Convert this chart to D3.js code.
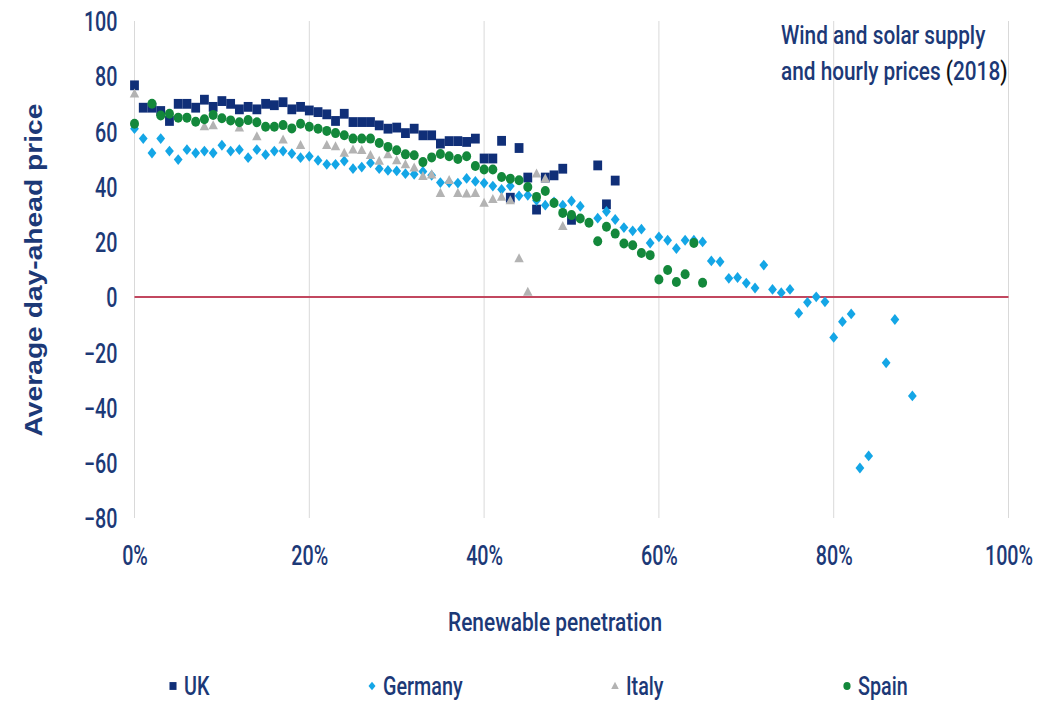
<!DOCTYPE html>
<html>
<head>
<meta charset="utf-8">
<script src="https://cdn.jsdelivr.net/npm/d3@7"></script>
<style>
  body { margin: 0; background: #fff; }
  svg { display: block; }
  text { font-family: Roboto, "Liberation Sans", sans-serif; fill: #1c3977; font-weight: 500; }
</style>
</head>
<body>
<div id="chart"></div>
<script>
// renewable penetration (%) and average day-ahead price
const ukData = [
  [0, 76.7], [1, 68.6], [2, 68.6], [3, 67.4], [4, 63.8], [5, 70], [6, 70], [7, 68.6], [8, 71.5], [9, 68.9],
  [10, 71], [11, 70], [12, 68], [13, 68.9], [14, 68], [15, 70], [16, 69.5], [17, 70.6], [18, 68], [19, 68.9],
  [20, 67.6], [21, 67], [22, 66.2], [23, 63.8], [24, 66.4], [25, 63.4], [26, 63.4], [27, 63.4], [28, 62.2], [29, 61],
  [30, 61.4], [31, 59.4], [32, 61], [33, 58.6], [34, 58.6], [35, 55.6], [36, 56.5], [37, 56.5], [38, 56.2], [39, 57.4],
  [40, 50.2], [41, 50.2], [42, 56.6], [43, 36], [44, 54], [45, 43.3], [46, 31.7], [47, 43.3], [48, 44.1], [49, 46.5],
  [50, 28], [53, 47.7], [54, 33.6], [55, 42.2]
];
const germanyData = [
  [0, 61], [1, 57.4], [2, 52.2], [3, 57.4], [4, 52.9], [5, 49.8], [6, 53.4], [7, 52.2], [8, 52.9], [9, 52.2],
  [10, 55], [11, 52.9], [12, 53.4], [13, 50.5], [14, 53.4], [15, 51.6], [16, 52.9], [17, 52.9], [18, 52], [19, 50.5],
  [20, 51], [21, 49.5], [22, 48.1], [23, 48.1], [24, 49.3], [25, 46.5], [26, 47.1], [27, 48.6], [28, 46.5], [29, 45.9],
  [30, 45.7], [31, 44.7], [32, 44.5], [33, 45.5], [34, 44.1], [35, 41.5], [36, 41.5], [37, 41.3], [38, 43], [39, 41.9],
  [40, 41.3], [41, 40.2], [42, 39], [43, 40.2], [44, 36.7], [45, 36.9], [46, 35], [47, 33.3], [48, 34.5], [49, 33.3],
  [50, 34.8], [51, 32.9], [53, 28.6], [54, 31], [55, 28.1], [56, 25.2], [57, 24], [58, 24.6], [59, 19.6],
  [60, 21.8], [61, 20.6], [62, 17.6], [63, 20.6], [64, 20.6], [65, 20], [66, 13.1], [67, 12.8], [68, 6.8], [69, 7.1],
  [70, 5.1], [71, 3.3], [72, 11.6], [73, 2.8], [74, 1.6], [75, 2.8], [76, -5.8], [77, -1.9], [78, 0.1], [79, -1.7],
  [80, -14.6], [81, -8.9], [82, -6.1], [83, -61.9], [84, -57.5], [86, -23.8], [87, -8.1], [89, -35.8]
];
const italyData = [
  [0, 73.7], [8, 61.8], [9, 62.2], [12, 61.4], [14, 58.2], [17, 57], [19, 55], [22, 55], [23, 54.6], [24, 52.2],
  [25, 53.4], [26, 53.2], [27, 51.4], [28, 49.3], [29, 51.7], [30, 49.5], [31, 48.1], [32, 46.9], [33, 43.8], [34, 44.4],
  [35, 37.7], [36, 42.4], [37, 37.7], [38, 37.5], [39, 37.7], [40, 34.1], [41, 35.5], [42, 36.3], [43, 35], [44, 14],
  [45, 1.9], [46, 44.7], [47, 42.9], [49, 25.7]
];
const spainData = [
  [0, 62.8], [2, 70], [3, 65.8], [4, 66.4], [5, 65], [6, 65], [7, 63.5], [8, 64.4], [9, 66],
  [10, 64.8], [11, 64], [12, 63.3], [13, 64.1], [14, 63.3], [15, 61.7], [16, 61.7], [17, 62.3], [18, 61.1], [19, 62.8],
  [20, 61.7], [21, 61], [22, 60.2], [23, 59.4], [24, 58.6], [25, 57.4], [26, 57.4], [27, 57.4], [28, 55.8], [29, 54.4],
  [30, 53.2], [31, 51.7], [32, 51.4], [33, 48.9], [34, 50.6], [35, 51.8], [36, 51], [37, 50], [38, 51], [39, 47.5],
  [40, 46.2], [41, 46.2], [42, 43.5], [43, 42.9], [44, 42.3], [45, 39.9], [46, 36.3], [47, 38.4], [48, 34.1], [49, 30.5],
  [50, 29.7], [51, 28.5], [52, 26.9], [53, 20.2], [54, 25.5], [55, 23], [56, 19.4], [57, 18.8], [58, 16], [59, 15.2],
  [60, 6.4], [61, 9.8], [62, 5.5], [63, 8.3], [64, 19.6], [65, 5.2]
];
const seriesNames = ["UK", "Germany", "Italy", "Spain"];
const xTicks = [0, 20, 40, 60, 80, 100];
const yTicks = [-80, -60, -40, -20, 0, 20, 40, 60, 80, 100];

const width = 1058, height = 702;
const colors = { UK: "#102f78", Germany: "#14a6e6", Italy: "#b3b3b3", Spain: "#13883b" };
const condensed = 0.76;

const svg = d3.select("#chart").append("svg")
  .attr("width", width).attr("height", height);
svg.append("rect").attr("width", width).attr("height", height).attr("fill", "#fff");

const x = d3.scaleLinear().domain([0, 100]).range([134.5, 1008.5]);
const y = d3.scaleLinear().domain([-80, 100]).range([518, 21]);

// squeeze a text node horizontally (the original uses a condensed face)
function condense(sel, k) {
  sel.each(function () {
    const w = this.getComputedTextLength();
    d3.select(this).attr("textLength", w * k).attr("lengthAdjust", "spacingAndGlyphs");
  });
}

// vertical gridlines
svg.append("g").selectAll("line").data(xTicks).join("line")
  .attr("x1", d => x(d)).attr("x2", d => x(d))
  .attr("y1", y(100)).attr("y2", y(-80))
  .attr("stroke", "#d9d9d9").attr("stroke-width", 1);

// zero line
svg.append("line")
  .attr("x1", x(0)).attr("x2", x(100))
  .attr("y1", y(0)).attr("y2", y(0))
  .attr("stroke", "#c2475f").attr("stroke-width", 2);

// axes
const yAxis = svg.append("g").attr("transform", `translate(${x(0)},0)`)
  .call(d3.axisLeft(y).tickValues(yTicks).tickSize(0).tickPadding(17));
yAxis.select(".domain").remove();
yAxis.selectAll("text").attr("font-size", 27).attr("fill", "#1c3977")
  .style("font-family", "Roboto").attr("dy", "0.36em").call(condense, 0.73);

const xAxis = svg.append("g").attr("transform", `translate(0,${y(-80)})`)
  .call(d3.axisBottom(x).tickValues(xTicks).tickSize(0).tickPadding(28).tickFormat(d => d + "%"));
xAxis.select(".domain").remove();
xAxis.selectAll("text").attr("font-size", 27).attr("fill", "#1c3977")
  .style("font-family", "Roboto").call(condense, 0.73);

// markers
const diamond = (hw, hh) => `M0,${-hh}L${hw},0L0,${hh}L${-hw},0Z`;
const triangle = s => `M0,${-s * 0.6}L${s * 0.55},${s * 0.45}L${-s * 0.55},${s * 0.45}Z`;

function drawMarker(g, name, big) {
  const k = big ? 1 : 0.8;
  if (name === "UK") {
    const s = 8.8 * k;
    g.append("rect").attr("x", -s / 2).attr("y", -s / 2 - 0.5 * k).attr("width", s).attr("height", s + 1 * k)
      .attr("fill", colors.UK);
  } else if (name === "Germany") {
    g.append("path").attr("d", diamond(4.4 * k, 5.4 * k)).attr("fill", colors.Germany);
  } else if (name === "Italy") {
    g.append("path").attr("d", triangle(8.6 * k)).attr("fill", colors.Italy);
  } else {
    g.append("ellipse").attr("rx", 4.5 * k).attr("ry", 5 * k).attr("fill", colors.Spain);
  }
}

const allData = { UK: ukData, Germany: germanyData, Italy: italyData, Spain: spainData };
seriesNames.forEach(name => {
  svg.append("g").selectAll("g").data(allData[name]).join("g")
    .attr("transform", d => `translate(${x(d[0])},${y(d[1])})`)
    .each(function () { drawMarker(d3.select(this), name, true); });
});

// axis titles
svg.append("text")
  .attr("transform", `translate(42,${270}) rotate(-90)`)
  .attr("text-anchor", "middle")
  .attr("font-size", 24)
  .style("font-weight", "bold")
  .style("font-family", "'Liberation Sans', Arial, sans-serif")
  .attr("textLength", 333).attr("lengthAdjust", "spacingAndGlyphs")
  .text("Average day-ahead price");

svg.append("text")
  .attr("x", 555).attr("y", 631)
  .attr("text-anchor", "middle")
  .attr("font-size", 26)
  .attr("textLength", 214).attr("lengthAdjust", "spacingAndGlyphs")
  .text("Renewable penetration");

// chart title, top right (horizontally squeezed group)
const title = svg.append("g").attr("transform", "translate(781,0) scale(0.8,1)");
title.append("text")
  .attr("x", 0).attr("y", 44)
  .attr("font-size", 26)
  .text("Wind and solar supply");
const t2 = title.append("text")
  .attr("x", 0).attr("y", 80)
  .attr("font-size", 26);
t2.append("tspan").text("and hourly prices ");
t2.append("tspan").style("fill", "#111").text("(");
t2.append("tspan").text("2018");
t2.append("tspan").style("fill", "#111").text(")");

// legend
const legendX = [173, 372, 615, 847];
const legend = svg.append("g").selectAll("g").data(seriesNames).join("g")
  .attr("transform", (d, i) => `translate(${legendX[i]},686)`);
legend.each(function (d) { drawMarker(d3.select(this), d, false); });
legend.append("text")
  .attr("x", 11).attr("y", 9)
  .attr("font-size", 26)
  .text(d => d)
  .call(condense, condensed);
</script>
</body>
</html>
